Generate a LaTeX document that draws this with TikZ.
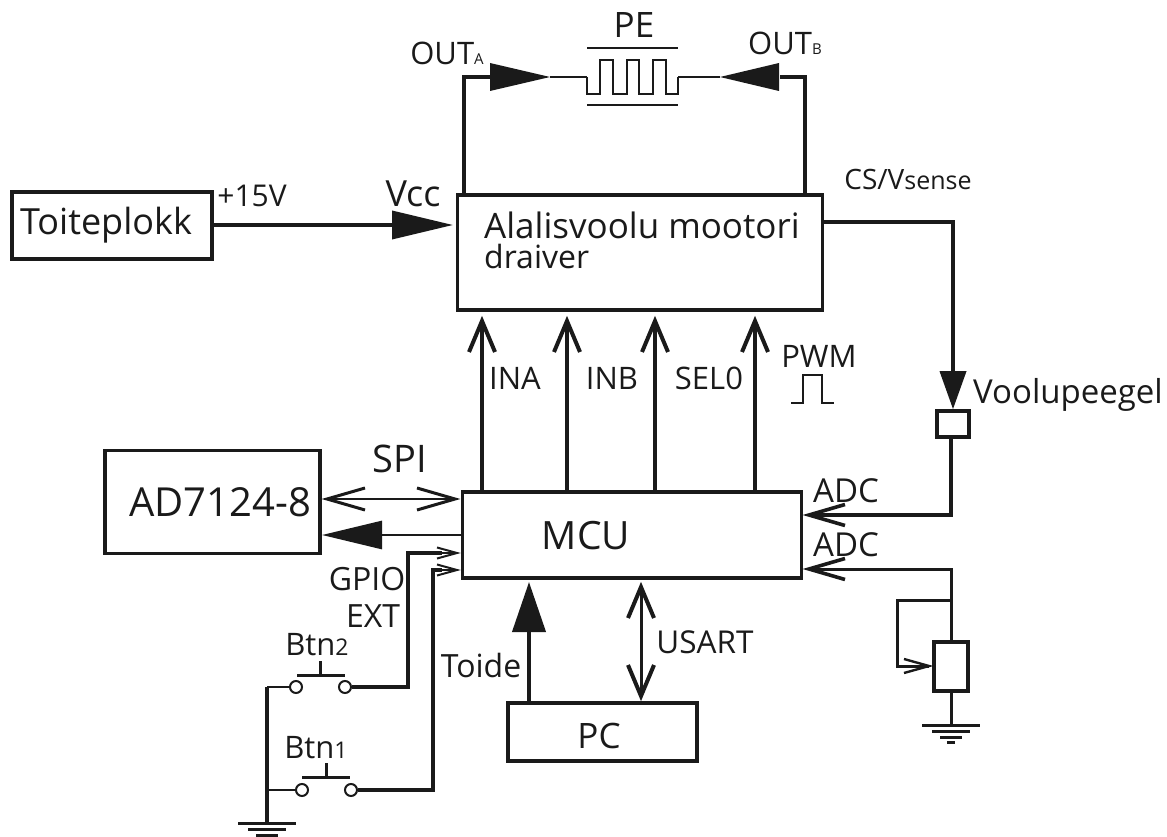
\documentclass[tikz,border=0pt]{standalone}
\usepackage{fontspec}
\setmainfont{Open Sans}
\usetikzlibrary{arrows.meta}
\newcommand{\fsz}[1]{\fontsize{#1}{#1}\selectfont}
\definecolor{ink}{HTML}{1A1A1A}
\tikzset{
  x=1pt,y=-1pt,
  wire/.style={line width=3.6pt,draw=ink},
  thinwire/.style={line width=2pt,draw=ink},
  box/.style={draw=ink,line width=3.6pt,inner sep=0pt,fill=white},
  lbl/.style={text=ink,inner sep=0pt,anchor=base},
  contact/.style={circle,draw=ink,line width=2pt,minimum size=12pt,inner sep=0pt,fill=white},
  gnd/.style={line width=3pt,draw=ink},
}
% barb head: tip coordinate, angle, length, half width, line width
\newcommand{\barbhead}[5]{\draw[draw=ink,line width=#5pt,miter limit=4,shift={(#1)},rotate=#2] (-#3,-#4) -- (0,0) -- (-#3,#4);}
\begin{document}
\begin{tikzpicture}
\useasboundingbox (0,0) rectangle (1167,837);
% boxes
\node[box,minimum width=200pt,minimum height=67pt] (toite) at (112,225.5) {};
\node[box,minimum width=365pt,minimum height=115pt] (drv) at (640,252.5) {};
\node[box,minimum width=339pt,minimum height=86pt] (mcu) at (632,535) {};
\node[box,minimum width=215pt,minimum height=103pt] (ad) at (212.5,502) {};
\node[box,minimum width=189pt,minimum height=58pt] (pc) at (602.5,732) {};
\node[box,minimum width=32pt,minimum height=26pt] (peegel) at (953,424) {};
\node[box,minimum width=34pt,minimum height=49pt] (res) at (951,666.5) {};
% PE element
\coordinate (peL) at (587,77);
\coordinate (peR) at (678,77);
\draw[thinwire,line width=2.6pt] (peL) -- (587,94) -- (600,94) -- (600,60) -- (613,60) -- (613,94) -- (627,94) -- (627,60) -- (639,60) -- (639,94) -- (653,94) -- (653,60) -- (666,60) -- (666,94) -- (678,94) -- (peR);
\draw[thinwire,line width=2.6pt] (587,48) -- (678,48);
\draw[thinwire,line width=2.6pt] (587,105) -- (678,105);
% OUT wires
\coordinate (oa0) at (464,195); \coordinate (oa1) at (464,77); \coordinate (oaT) at (550,77);
\coordinate (ob0) at (805,195); \coordinate (ob1) at (805,77); \coordinate (obT) at (720,77);
\draw[wire] (oa0) -- (oa1) -- (490,77);
\draw[wire] (ob0) -- (ob1) -- (780,77);
\draw[thinwire,line width=2.6pt] (oaT) -- (peL);
\draw[thinwire,line width=2.6pt] (obT) -- (peR);
\fill[ink] (490,63) -- (oaT) -- (490,91) -- cycle;
\fill[ink] (779,63) -- (obT) -- (779,91) -- cycle;
% Vcc
\coordinate (vccT) at (453,225);
\draw[wire,-{Stealth[length=61pt,width=28pt,inset=0pt]}] (toite.east |- vccT) -- (vccT);
% MCU to driver
\foreach \n/\x in {ina/482,inb/567,sel/655,pwm/755}{
  \coordinate (\n M) at (\x,492);
  \coordinate (\n D) at (\x,321);
  \draw[wire] (\n M) -- (\n D);
  \barbhead{\n D}{90}{31}{13}{4}
}
% current sense
\coordinate (cs) at (821,222);
\coordinate (csC) at (953,222);
\draw[wire,-{Stealth[length=38pt,width=26pt,inset=0pt]}] (cs) -- (csC) -- (peegel.north);
\coordinate (ad1C) at (951,515);
\coordinate (ad1M) at (809,515);
\draw[wire] (peegel.south -| ad1C) -- (ad1C) -- (ad1M);
\barbhead{ad1M}{180}{36}{10.5}{3.6}
\coordinate (ad2C) at (951,569);
\coordinate (ad2M) at (809,569);
\draw[wire,line width=3pt] (res.north) -- (ad2C) -- (ad2M);
\barbhead{ad2M}{180}{36}{10.5}{3.6}
\coordinate (lp) at (951,600);
\coordinate (resT) at (929,666);
\draw[wire,line width=3pt] (lp) -- (897,600) -- (897,666) -- (resT);
\barbhead{resT}{0}{25}{7}{2.4}
% ground right
\draw[wire,line width=3pt] (res.south) -- (951,725);
\draw[gnd] (922,725) -- (980,725);
\draw[gnd] (932,731) -- (970,731);
\draw[gnd] (940,737) -- (962,737);
\draw[gnd] (947,742) -- (955,742);
% SPI
\coordinate (spiA) at (327,499); \coordinate (spiM) at (455,499);
\draw[line width=2.6pt,draw=ink] (spiA) -- (spiM);
\barbhead{spiA}{180}{38}{11}{3}
\barbhead{spiM}{0}{38}{11}{3}
\coordinate (cmdM) at (462,535); \coordinate (cmdA) at (322,535);
\draw[line width=2.8pt,draw=ink,-{Stealth[length=60pt,width=28pt,inset=0pt]}] (cmdM) -- (cmdA);
% buttons
\node[contact] (b2a) at (296,687) {};
\node[contact] (b2b) at (345,687) {};
\node[contact] (b1a) at (302,790) {};
\node[contact] (b1b) at (351,790) {};
\draw[gnd] (297,675) -- (345,675);
\draw[gnd] (320,661) -- (320,675);
\draw[gnd] (302,777) -- (350,777);
\draw[gnd] (326,763) -- (326,777);
\coordinate (g1) at (408,553); \coordinate (g2) at (457,553);
\draw[wire] (b2b) -- (408,687) -- (g1) -- (442,553);
\draw[line width=2pt,draw=ink] (440,553) -- (g2);
\barbhead{g2}{0}{20}{5.5}{2}
\coordinate (e1) at (433,570); \coordinate (e2) at (457,570);
\draw[wire] (b1b) -- (433,790) -- (e1) -- (442,570);
\draw[line width=2pt,draw=ink] (440,570) -- (e2);
\barbhead{e2}{0}{20}{5.5}{2}
\coordinate (gtop) at (267,687); \coordinate (gm) at (267,790);
\draw[wire] (gtop) -- (267,823);
\draw[thinwire] (gtop) -- (b2a);
\draw[thinwire] (gm) -- (b1a);
\draw[gnd] (238,823) -- (296,823);
\draw[gnd] (248,829) -- (286,829);
\draw[gnd] (256,835) -- (278,835);
% PC
\coordinate (tP) at (529,703); \coordinate (tM) at (529,582);
\draw[wire,line width=4pt,-{Stealth[length=50pt,width=33pt,inset=0pt]}] (tP) -- (tM);
\coordinate (uP) at (641,696); \coordinate (uM) at (641,587);
\draw[wire,line width=3pt] (uM) -- (uP);
\barbhead{uM}{90}{31}{13}{4}
\barbhead{uP}{-90}{31}{13}{4}
% PWM pulse
\draw[thinwire,line width=2.6pt] (791,403) -- (803,403) -- (803,375) -- (822,375) -- (822,403) -- (834,403);
% labels
\node[lbl,font=\fsz{35}] (tPE) at (634,38) {PE};
\node[lbl,font=\fsz{31}] (tOA) at (447,65) {OUT{\fsz{15}A}};
\node[lbl,font=\fsz{31}] (tOB) at (785,55) {OUT{\fsz{15}B}};
\node[lbl,font=\fsz{30}] (t15) at (252,207) {+15V};
\node[lbl,font=\fsz{36}] (tV) at (413,207) {Vcc};
\node[lbl,font=\fsz{36}] (tT) at (106,234) {Toiteplokk};
\node[lbl,font=\fsz{35},anchor=base west] (tD1) at (484,239) {Alalisvoolu mootori};
\node[lbl,font=\fsz{32},anchor=base west] (tD2) at (484,268) {draiver};
\node[lbl,font=\fsz{28}] (tCS) at (908,190) {CS/V{\fsz{25}sense}};
\node[lbl,font=\fsz{31}] (tI1) at (515,389) {INA};
\node[lbl,font=\fsz{31}] (tI2) at (612,389) {INB};
\node[lbl,font=\fsz{31}] (tS) at (709,389) {SEL0};
\node[lbl,font=\fsz{31}] (tP2) at (819,367) {PWM};
\node[lbl,font=\fsz{33}] (tVo) at (1068,403) {Voolupeegel};
\node[lbl,font=\fsz{38}] (tSPI) at (400,472) {SPI};
\node[lbl,font=\fsz{40}] (tAD) at (220,516) {AD7124-8};
\node[lbl,font=\fsz{39}] (tM2) at (586,549) {MCU};
\node[lbl,font=\fsz{33}] (tA1) at (846,502) {ADC};
\node[lbl,font=\fsz{33}] (tA2) at (846,556) {ADC};
\node[lbl,font=\fsz{32}] (tG) at (367,590) {GPIO};
\node[lbl,font=\fsz{32}] (tE) at (373,627) {EXT};
\node[lbl,font=\fsz{31}] (tB2) at (317,655) {Btn{\fsz{23}2}};
\node[lbl,font=\fsz{31}] (tB1) at (316,758) {Btn{\fsz{23}1}};
\node[lbl,font=\fsz{32}] (tTo) at (481,677) {Toide};
\node[lbl,font=\fsz{31.5}] (tU) at (705,653) {USART};
\node[lbl,font=\fsz{35}] (tPC) at (599,748) {PC};
\end{tikzpicture}
\end{document}
